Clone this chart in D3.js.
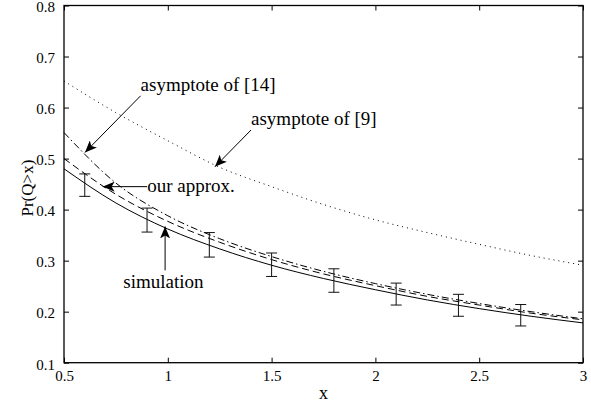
<!DOCTYPE html>
<html>
<head>
<meta charset="utf-8">
<script src="https://cdn.jsdelivr.net/npm/d3@7/dist/d3.min.js"></script>
<style>
  html, body { margin: 0; padding: 0; background: #fff; }
  svg { display: block; }
  text { font-family: "Liberation Serif", "Times New Roman", serif; fill: #000; }
</style>
</head>
<body>
<svg id="chart" width="591" height="407"></svg>
<script>
// Curve abscissae shared by all model curves
const xGrid = [0.5, 0.75, 1.0, 1.25, 1.5, 1.75, 2.0, 2.25, 2.5, 2.75, 3.0];

// Pr(Q > x) for each curve
const simulation   = [0.480, 0.413, 0.362, 0.323, 0.291, 0.265, 0.243, 0.223, 0.206, 0.191, 0.178];
const ourApprox    = [0.500, 0.430, 0.377, 0.336, 0.302, 0.274, 0.251, 0.230, 0.213, 0.197, 0.184];
const asymptote14  = [0.551, 0.452, 0.388, 0.343, 0.308, 0.279, 0.255, 0.234, 0.216, 0.200, 0.186];
const asymptote9   = [0.652, 0.590, 0.535, 0.483, 0.445, 0.410, 0.380, 0.355, 0.332, 0.310, 0.291];

// Simulation confidence intervals
const errX     = [0.6, 0.9, 1.2, 1.5, 1.8, 2.1, 2.4, 2.7];
const errLow   = [0.426, 0.356, 0.307, 0.269, 0.238, 0.213, 0.191, 0.172];
const errHigh  = [0.470, 0.403, 0.355, 0.315, 0.284, 0.256, 0.234, 0.214];

// Axis ticks
const xTicks = [0.5, 1, 1.5, 2, 2.5, 3];
const yTicks = [0.1, 0.2, 0.3, 0.4, 0.5, 0.6, 0.7, 0.8];
const xTickLabels = ["0.5", "1", "1.5", "2", "2.5", "3"];
const yTickLabels = ["0.1", "0.2", "0.3", "0.4", "0.5", "0.6", "0.7", "0.8"];

// Callouts: label anchor and arrow (from -> tip), in data units
const callouts = [
  { text: "asymptote of [14]", tx: 0.869, ty: 0.633, x1: 0.869, y1: 0.623, x2: 0.601, y2: 0.512 },
  { text: "asymptote of [9]",  tx: 1.401, ty: 0.565, x1: 1.401, y1: 0.556, x2: 1.227, y2: 0.484 },
  { text: "our approx.",       tx: 0.901, ty: 0.434, x1: 0.900, y1: 0.445, x2: 0.686, y2: 0.445 },
  { text: "simulation",        tx: 0.786, ty: 0.247, x1: 0.987, y1: 0.281, x2: 0.987, y2: 0.367 }
];

const svg = d3.select("#chart");
const mLeft = 64, mRight = 583, mTop = 5.5, mBottom = 362.7;

const x = d3.scaleLinear().domain([0.5, 3]).range([mLeft, mRight]);
const y = d3.scaleLinear().domain([0.1, 0.8]).range([mBottom, mTop]);

const tickLen = 5;
const axisFont = "15px";

// Bottom axis with inward ticks
const gx = svg.append("g").attr("transform", `translate(0,${mBottom})`)
  .call(d3.axisBottom(x).tickValues(xTicks).tickSizeInner(-tickLen).tickSizeOuter(0)
    .tickPadding(tickLen + 3).tickFormat((d, i) => xTickLabels[i]));
// Left axis with inward ticks
const gy = svg.append("g").attr("transform", `translate(${mLeft},0)`)
  .call(d3.axisLeft(y).tickValues(yTicks).tickSizeInner(-tickLen).tickSizeOuter(0)
    .tickPadding(tickLen + 4).tickFormat((d, i) => yTickLabels[i]));
// Top and right mirror ticks
const gt = svg.append("g").attr("transform", `translate(0,${mTop})`)
  .call(d3.axisTop(x).tickValues(xTicks).tickSizeInner(-tickLen).tickSizeOuter(0).tickFormat(""));
const gr = svg.append("g").attr("transform", `translate(${mRight},0)`)
  .call(d3.axisRight(y).tickValues(yTicks).tickSizeInner(-tickLen).tickSizeOuter(0).tickFormat(""));

[gx, gy, gt, gr].forEach(g => {
  g.select(".domain").remove();
  g.selectAll("line").attr("stroke", "#000").attr("stroke-width", 1);
  g.selectAll("text").style("font-family", '"Liberation Serif", serif')
    .style("font-size", axisFont).attr("fill", "#000");
});
gy.selectAll("text").attr("dy", "0.42em");

// Plot frame
svg.append("rect")
  .attr("x", mLeft).attr("y", mTop)
  .attr("width", mRight - mLeft).attr("height", mBottom - mTop)
  .attr("fill", "none").attr("stroke", "#000").attr("stroke-width", 1.3);

// Axis titles
svg.append("text")
  .attr("x", (mLeft + mRight) / 2).attr("y", 399)
  .attr("text-anchor", "middle").style("font-size", "18px").text("x");
svg.append("text")
  .attr("transform", `translate(33,${(mTop + mBottom) / 2 + 4}) rotate(-90)`)
  .attr("text-anchor", "middle").style("font-size", "17px").text("Pr(Q>x)");

// Curves
const line = d3.line().x(d => x(d[0])).y(d => y(d[1])).curve(d3.curveMonotoneX);
const plotArea = svg.append("g");
const series = [
  { v: asymptote9,  dash: "1 4" },
  { v: asymptote14, dash: "7 3 1.5 3" },
  { v: ourApprox,   dash: "7 4" },
  { v: simulation,  dash: null }
];
series.forEach(s => {
  plotArea.append("path")
    .datum(xGrid.map((xv, i) => [xv, s.v[i]]))
    .attr("d", line)
    .attr("fill", "none")
    .attr("stroke", "#000")
    .attr("stroke-width", 1)
    .attr("stroke-dasharray", s.dash);
});

// Error bars
const capHalf = 5.5;
const eb = plotArea.selectAll("g.err").data(errX.map((xv, i) => ({ x: xv, lo: errLow[i], hi: errHigh[i] })))
  .enter().append("g").attr("class", "err").attr("stroke", "#111").attr("stroke-width", 1);
eb.append("line").attr("x1", d => x(d.x)).attr("x2", d => x(d.x)).attr("y1", d => y(d.lo)).attr("y2", d => y(d.hi));
eb.append("line").attr("x1", d => x(d.x) - capHalf).attr("x2", d => x(d.x) + capHalf).attr("y1", d => y(d.lo)).attr("y2", d => y(d.lo));
eb.append("line").attr("x1", d => x(d.x) - capHalf).attr("x2", d => x(d.x) + capHalf).attr("y1", d => y(d.hi)).attr("y2", d => y(d.hi));

// Arrowhead marker
svg.append("defs").append("marker")
  .attr("id", "head").attr("viewBox", "0 0 12 10")
  .attr("refX", 12).attr("refY", 5)
  .attr("markerWidth", 12).attr("markerHeight", 10)
  .attr("markerUnits", "userSpaceOnUse")
  .attr("orient", "auto")
  .append("path").attr("d", "M0,0 L12,5 L0,10 L3,5 Z").attr("fill", "#000");

// Callouts
callouts.forEach(c => {
  svg.append("line")
    .attr("x1", x(c.x1)).attr("y1", y(c.y1))
    .attr("x2", x(c.x2)).attr("y2", y(c.y2))
    .attr("stroke", "#000").attr("stroke-width", 1)
    .attr("marker-end", "url(#head)");
  svg.append("text")
    .attr("x", x(c.tx)).attr("y", y(c.ty))
    .style("font-size", "19px").text(c.text);
});
</script>
</body>
</html>
